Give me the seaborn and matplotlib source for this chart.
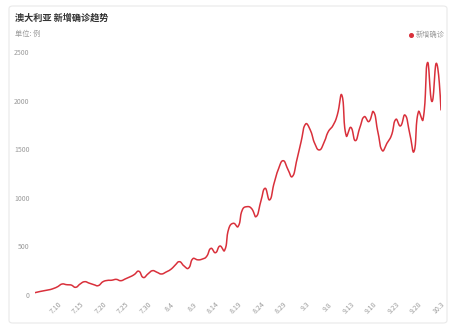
import numpy as np
import pandas as pd
import matplotlib
matplotlib.use("Agg")
import matplotlib.pyplot as plt
import seaborn as sns
from matplotlib.patches import FancyBboxPatch
from matplotlib.lines import Line2D

# ---------------- data ----------------
start_date = "2021-07-05"
end_date = "2021-10-03"
new_cases = [24, 35, 44, 52, 65, 85, 113, 106, 103, 79,
             113, 137, 122, 108, 96, 135, 150, 152, 161, 147,
             165, 185, 210, 245, 180, 215, 250, 235, 216, 235,
             260, 302, 343, 300, 275, 374, 362, 368, 394, 480,
             435, 504, 456, 690, 738, 703, 880, 909, 890, 806,
             950, 1098, 978, 1150, 1300, 1382, 1300, 1217, 1380, 1580,
             1760, 1700, 1560, 1492, 1560, 1680, 1739, 1850, 2058, 1636,
             1725, 1588, 1720, 1835, 1784, 1887, 1680, 1485, 1560, 1640,
             1808, 1739, 1852, 1680, 1475, 1887, 1800, 2391, 1990, 2384,
             1904]
tick_labels = ["7.10", "7.15", "7.20", "7.25", "7.30", "8.4", "8.9", "8.14",
               "8.19", "8.24", "8.29", "9.3", "9.8", "9.13", "9.18", "9.23",
               "9.28", "10.3"]
y_ticks = [0, 500, 1000, 1500, 2000, 2500]
title = "澳大利亚 新增确诊趋势"
unit_text = "单位: 例"
series_name = "新增确诊"
line_color = "#d9303b"

dates = pd.date_range(start_date, end_date, freq="D")
df = pd.DataFrame({"date": dates, "cases": new_cases})
df["idx"] = np.arange(len(df))

# ---------------- smoothing (ECharts-like bezier, in pixel space) ----------------
W, H = 459, 330
ax_left, ax_right, ax_top, ax_bottom = 35, 441, 52, 295
ymax = 2500
sx = (ax_right - ax_left) / (len(df) - 1)
sy = (ax_bottom - ax_top) / ymax


def smooth_curve(x, y, smooth=0.5, n=16):
    P = np.column_stack([np.asarray(x, float) * sx, np.asarray(y, float) * sy])
    N = len(P)
    cin = P.copy()
    cout = P.copy()
    for i in range(1, N - 1):
        prev, cur, nxt = P[i - 1], P[i], P[i + 1]
        v = nxt - prev
        d0 = np.linalg.norm(cur - prev)
        d1 = np.linalg.norm(nxt - cur)
        r = d1 / (d0 + d1) if (d0 + d1) > 0 else 0.5
        cin[i] = cur - v * smooth * (1 - r)
        cout[i] = cur + v * smooth * r
    pts = []
    t = np.linspace(0, 1, n, endpoint=False)[:, None]
    for i in range(N - 1):
        p0, p1, p2, p3 = P[i], cout[i], cin[i + 1], P[i + 1]
        seg = ((1 - t) ** 3) * p0 + 3 * ((1 - t) ** 2) * t * p1 + 3 * (1 - t) * t ** 2 * p2 + t ** 3 * p3
        pts.append(seg)
    pts.append(P[-1][None, :])
    pts = np.vstack(pts)
    return pts[:, 0] / sx, pts[:, 1] / sy


xs, ys = smooth_curve(df["idx"], df["cases"])
curve = pd.DataFrame({"x": xs, "y": ys})

# ---------------- figure ----------------
sns.set_style("white")
plt.rcParams["font.family"] = ["Noto Sans CJK SC", "DejaVu Sans"]

fig = plt.figure(figsize=(W / 100, H / 100), dpi=100)
fig.patch.set_facecolor("white")

card = FancyBboxPatch((9 / W, 7 / H), (447 - 9) / W, (324 - 7) / H,
                      boxstyle="round,pad=0,rounding_size=0.008",
                      transform=fig.transFigure, facecolor="white",
                      edgecolor="#e9e9e9", linewidth=0.8, zorder=-10)
fig.patches.append(card)

ax = fig.add_axes([ax_left / W, 1 - ax_bottom / H,
                   (ax_right - ax_left) / W, (ax_bottom - ax_top) / H])
ax.set_facecolor("none")
ax.set_zorder(5)

sns.lineplot(data=curve, x="x", y="y", sort=False, estimator=None,
             color=line_color, linewidth=1.1, ax=ax)

ax.set_xlim(0, len(df) - 1)
ax.set_ylim(0, ymax)
for s in ax.spines.values():
    s.set_visible(False)

ax.set_yticks(y_ticks)
ax.set_yticklabels([str(v) for v in y_ticks])
ax.tick_params(axis="y", length=0, pad=4, labelsize=5, labelcolor="#9a9a9a")

tick_pos = [i for i in range(5, len(df), 5)]
ax.set_xticks(tick_pos)
ax.set_xticklabels(tick_labels, rotation=45, ha="right", rotation_mode="anchor")
ax.tick_params(axis="x", length=2, width=0.5, color="#e0e0e0", pad=2,
               labelsize=5, labelcolor="#9a9a9a")
ax.set_xlabel("")
ax.set_ylabel("")
ax.grid(False)

# titles
fig.text(15 / W, 1 - 18 / H, title, fontsize=6.6, fontweight="bold",
         color="#333333", ha="left", va="center")
fig.text(15 / W, 1 - 34 / H, unit_text, fontsize=5.2, color="#9a9a9a",
         ha="left", va="center")

# legend
fig.lines.append(Line2D([411 / W], [1 - 35 / H], transform=fig.transFigure,
                        marker="o", markersize=2.6, color=line_color, linestyle="none"))
fig.text(416 / W, 1 - 35 / H, series_name, fontsize=5.2, color="#9a9a9a",
         ha="left", va="center")

fig.savefig("out.png", dpi=100, facecolor="white")
